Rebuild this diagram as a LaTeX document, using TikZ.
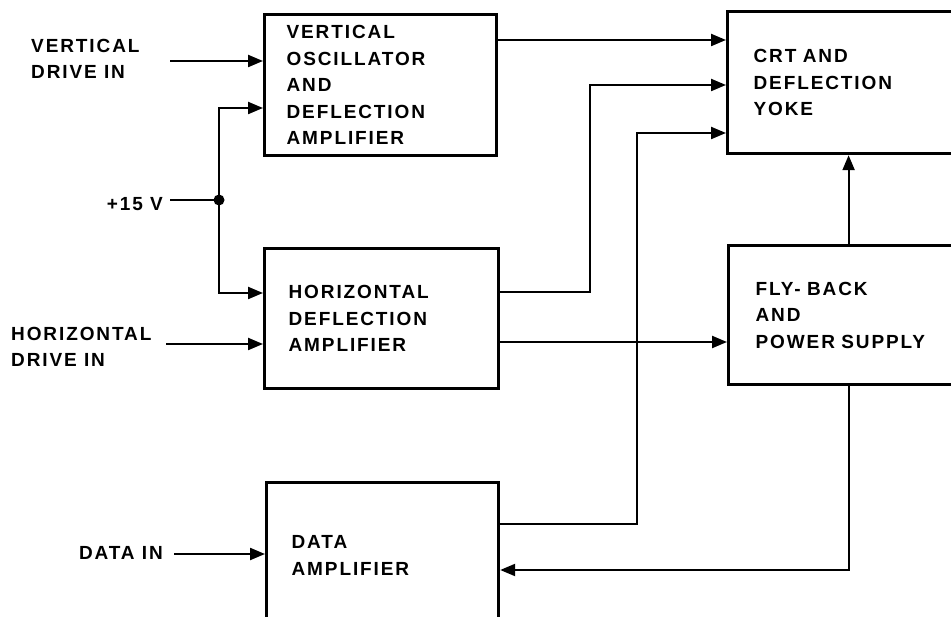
\documentclass[tikz,border=0pt]{standalone}
\usepackage{fontspec}
\setmainfont{Liberation Sans}[LetterSpace=10]
\usetikzlibrary{arrows.meta}
\begin{document}
\begin{tikzpicture}[x=1pt,y=-1pt,
  every node/.style={font=\fontsize{19}{26.5}\selectfont\bfseries},
  blk/.style={draw, line width=3.2pt, anchor=north west, inner ysep=0pt, align=left},
  lbl/.style={inner sep=0pt, align=left},
  arr/.style={line width=2.2pt, -{Triangle[length=15pt,width=12pt]}},
  wire/.style={line width=2.2pt},
  jdot/.style={circle, fill, inner sep=0pt, minimum size=11pt}]
\useasboundingbox (0,0) rectangle (951,617);
\clip (0,0) rectangle (951,617);
% blocks
\node[blk, inner xsep=22pt, text width=188pt, minimum height=141pt] (vosc) at (263,13)
  {VERTICAL\\OSCILLATOR\\AND\\DEFLECTION\\AMPLIFIER};
\node[blk, inner xsep=24pt, text width=186pt, minimum height=140pt] (hdef) at (263,247)
  {HORIZONTAL\\DEFLECTION\\AMPLIFIER};
\node[blk, inner xsep=25pt, text width=182pt, minimum height=146pt] (data) at (265,481)
  {DATA\\AMPLIFIER};
\node[blk, inner xsep=26pt, text width=190pt, minimum height=142pt] (crt) at (726,10)
  {CRT AND\\DEFLECTION\\YOKE};
\node[blk, inner xsep=27pt, text width=186pt, minimum height=139pt] (fly) at (727,244)
  {FLY- BACK\\AND\\POWER SUPPLY};
% input labels
\node[lbl, anchor=west] (lv) at (31,59) {VERTICAL\\DRIVE IN};
\node[lbl, anchor=west] (lh) at (11,347) {HORIZONTAL\\DRIVE IN};
\node[lbl, anchor=east] (lp) at (163,204) {+15 V};
\node[lbl, anchor=east] (ld) at (163,553) {DATA IN};
% coordinates
\coordinate (vin) at (170,61);
\coordinate (hin) at (166,344);
\coordinate (pin) at (170,200);
\coordinate (din) at (174,554);
\node[jdot] (j) at (219,200) {};
\coordinate (k2) at (590,85);
\coordinate (k3) at (637,133);
% inputs
\draw[arr] (vin) -- (vin -| vosc.west);
\draw[arr] (hin) -- (hin -| hdef.west);
\draw[arr] (din) -- (din -| data.west);
\draw[wire] (pin) -- (j.center);
\draw[arr] (j.center) |- ([yshift=-95pt]vosc.north west);
\draw[arr] (j.center) |- ([yshift=-46pt]hdef.north west);
% outputs
\draw[arr] ([yshift=-27pt]vosc.north east) -- ([yshift=-27pt]vosc.north east -| crt.west);
\draw[arr] ([yshift=-45pt]hdef.north east) -| (k2) -- (k2 -| crt.west);
\draw[arr] ([yshift=-95pt]hdef.north east) -- ([yshift=-95pt]hdef.north east -| fly.west);
\draw[arr] ([yshift=-43pt]data.north east) -| (k3) -- (k3 -| crt.west);
\draw[arr] (fly.north) -- (fly.north |- crt.south);
\draw[arr] (fly.south) |- ([yshift=-89pt]data.north east);
\end{tikzpicture}
\end{document}
